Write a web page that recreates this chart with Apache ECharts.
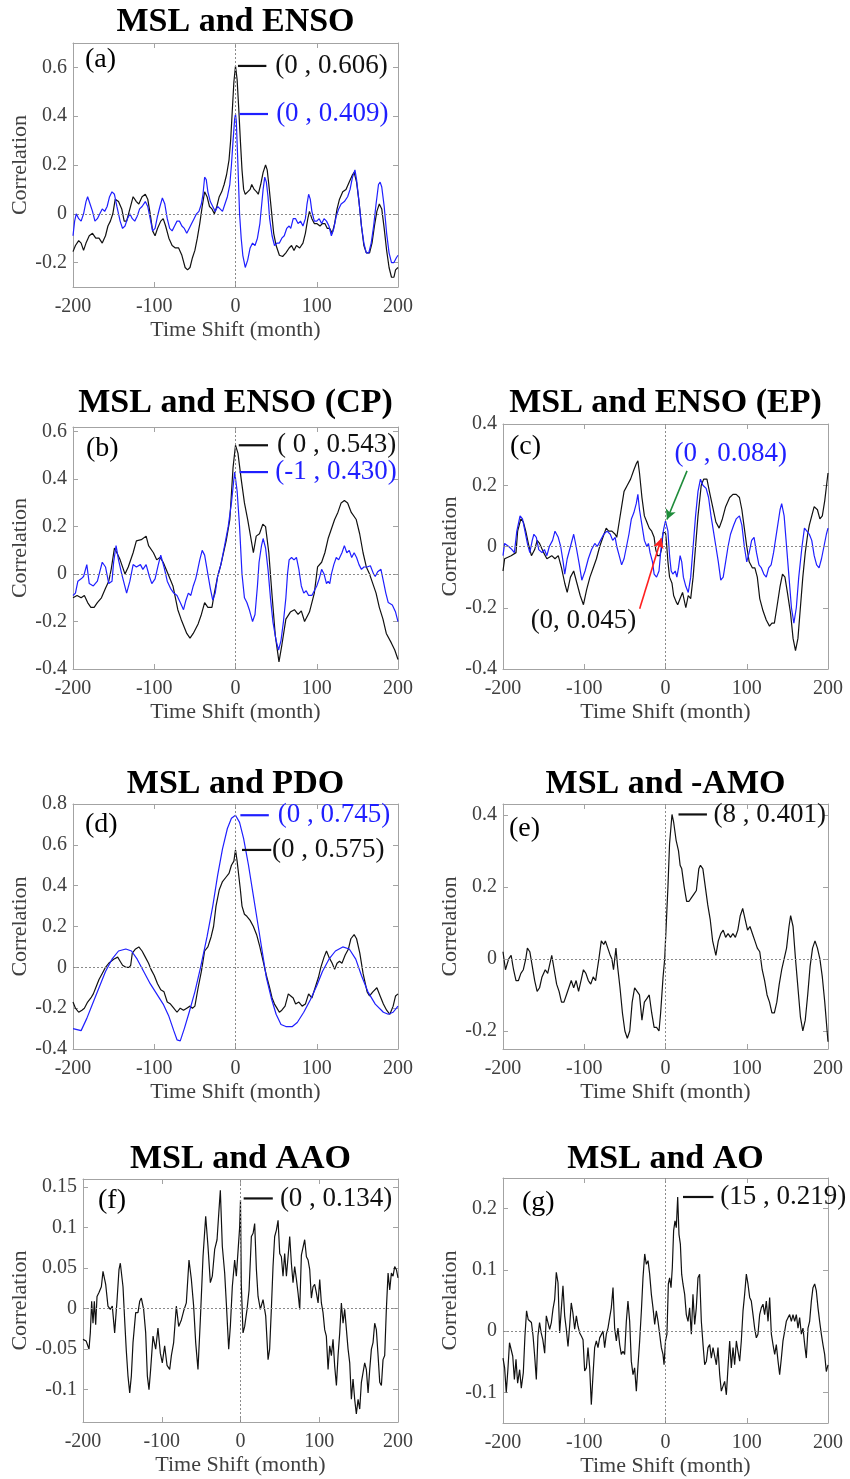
<!DOCTYPE html>
<html><head><meta charset="utf-8">
<script src="https://cdn.jsdelivr.net/npm/echarts@6/dist/echarts.min.js"></script>
<style>html,body{margin:0;padding:0;background:#fff}#c{width:850px;height:1479px}</style>
</head><body><div id="c"></div>
<script>
// ---------- tick labels ----------
const xTicks = [-200, -100, 0, 100, 200];
const yTicksA = [-0.2, 0, 0.2, 0.4, 0.6];
const yTicksB = [-0.4, -0.2, 0, 0.2, 0.4, 0.6];
const yTicksC = [-0.4, -0.2, 0, 0.2, 0.4];
const yTicksD = [-0.4, -0.2, 0, 0.2, 0.4, 0.6, 0.8];
const yTicksE = [-0.2, 0, 0.2, 0.4];
const yTicksF = [-0.1, -0.05, 0, 0.05, 0.1, 0.15];
const yTicksG = [-0.1, 0, 0.1, 0.2];

const titles = ['MSL and ENSO', 'MSL and ENSO (CP)', 'MSL and ENSO (EP)', 'MSL and PDO', 'MSL and -AMO', 'MSL and AAO', 'MSL and AO'];
const letters = ['(a)', '(b)', '(c)', '(d)', '(e)', '(f)', '(g)'];

// ---------- series: [time shift (month), correlation] ----------
const aBlack = [[-200,-0.155],[-197,-0.13],[-193,-0.11],[-190,-0.12],[-187,-0.15],[-184,-0.12],[-180,-0.09],[-176,-0.08],[-172,-0.1],[-168,-0.1],[-164,-0.12],[-160,-0.09],[-157,-0.05],[-154,-0.03],[-151,0.0],[-148,0.06],[-144,0.05],[-140,0.02],[-137,-0.03],[-134,-0.03],[-130,0.02],[-126,0.07],[-122,0.05],[-119,0.04],[-115,0.07],[-111,0.08],[-108,0.06],[-105,0.0],[-102,-0.07],[-99,-0.09],[-96,-0.06],[-92,-0.03],[-89,-0.02],[-86,-0.05],[-82,-0.1],[-78,-0.13],[-74,-0.14],[-70,-0.14],[-66,-0.17],[-62,-0.22],[-59,-0.23],[-56,-0.22],[-53,-0.18],[-50,-0.15],[-47,-0.1],[-44,-0.04],[-41,0.03],[-38,0.09],[-35,0.07],[-32,0.03],[-29,0.02],[-26,0.0],[-23,0.03],[-20,0.07],[-17,0.09],[-14,0.12],[-11,0.16],[-8,0.22],[-6,0.3],[-4,0.42],[-2,0.54],[0,0.606],[2,0.55],[4,0.43],[6,0.3],[8,0.18],[10,0.1],[12,0.08],[15,0.09],[18,0.1],[20,0.12],[23,0.1],[26,0.09],[28,0.08],[31,0.12],[34,0.17],[37,0.2],[39,0.18],[41,0.12],[44,0.02],[47,-0.08],[50,-0.13],[54,-0.17],[58,-0.175],[62,-0.16],[66,-0.14],[69,-0.13],[72,-0.15],[75,-0.13],[79,-0.14],[83,-0.12],[86,-0.08],[89,-0.02],[91,0.01],[94,-0.02],[97,-0.04],[100,-0.04],[104,-0.05],[107,-0.04],[110,-0.04],[113,-0.06],[116,-0.06],[119,-0.08],[122,-0.04],[125,0.02],[128,0.06],[132,0.09],[136,0.1],[140,0.13],[144,0.16],[146,0.17],[149,0.13],[152,0.05],[155,-0.05],[158,-0.13],[161,-0.16],[165,-0.16],[168,-0.12],[171,-0.05],[174,0.01],[177,0.04],[180,0.02],[183,-0.06],[186,-0.15],[189,-0.22],[192,-0.26],[195,-0.26],[197,-0.23],[200,-0.22]];
const aBlue = [[-200,-0.09],[-198,-0.03],[-196,0.0],[-193,-0.02],[-190,-0.03],[-187,0.0],[-184,0.05],[-182,0.07],[-179,0.04],[-176,0.01],[-173,-0.03],[-170,-0.02],[-167,0.0],[-164,0.02],[-161,0.01],[-158,0.03],[-155,0.07],[-152,0.09],[-149,0.08],[-146,0.03],[-142,-0.03],[-139,-0.06],[-136,-0.05],[-133,-0.02],[-130,0.0],[-127,-0.02],[-124,-0.03],[-121,-0.01],[-118,0.02],[-115,0.03],[-111,0.05],[-108,0.03],[-105,-0.02],[-102,-0.07],[-99,-0.06],[-96,-0.01],[-93,0.03],[-90,0.065],[-87,0.04],[-84,-0.02],[-81,-0.06],[-78,-0.07],[-75,-0.05],[-72,-0.03],[-69,-0.03],[-66,-0.05],[-63,-0.06],[-60,-0.08],[-57,-0.06],[-54,-0.04],[-51,-0.02],[-48,0.0],[-45,0.01],[-42,0.04],[-40,0.08],[-38,0.15],[-36,0.14],[-34,0.09],[-31,0.05],[-28,0.03],[-25,0.01],[-22,0.03],[-19,0.02],[-16,0.01],[-13,0.04],[-10,0.07],[-7,0.12],[-5,0.2],[-3,0.3],[-1,0.39],[0,0.409],[1,0.38],[3,0.2],[5,0.0],[7,-0.1],[9,-0.17],[12,-0.22],[15,-0.19],[18,-0.14],[21,-0.12],[24,-0.13],[27,-0.1],[30,-0.04],[32,0.03],[34,0.1],[36,0.15],[38,0.13],[40,0.07],[42,-0.02],[45,-0.09],[48,-0.13],[51,-0.12],[54,-0.12],[57,-0.1],[60,-0.09],[63,-0.06],[66,-0.05],[68,-0.06],[71,-0.02],[74,-0.02],[77,-0.04],[80,-0.03],[83,-0.05],[86,-0.02],[88,0.04],[90,0.08],[92,0.06],[94,0.01],[97,-0.03],[100,-0.03],[103,-0.02],[106,-0.04],[109,-0.02],[112,-0.03],[115,-0.05],[118,-0.09],[121,-0.06],[124,-0.01],[127,0.02],[130,0.04],[134,0.05],[138,0.07],[141,0.1],[144,0.15],[147,0.18],[149,0.14],[152,0.05],[155,-0.05],[158,-0.12],[161,-0.16],[164,-0.16],[167,-0.12],[170,-0.05],[173,0.04],[176,0.12],[178,0.13],[180,0.11],[183,0.03],[186,-0.08],[189,-0.16],[192,-0.2],[195,-0.2],[198,-0.18],[200,-0.17]];

const bBlack = [[-200,-0.1],[-195,-0.09],[-190,-0.1],[-186,-0.09],[-182,-0.12],[-178,-0.14],[-174,-0.14],[-170,-0.12],[-165,-0.1],[-160,-0.06],[-156,-0.03],[-153,0.02],[-149,0.11],[-146,0.09],[-142,0.06],[-136,0.0],[-132,0.03],[-126,0.09],[-122,0.14],[-116,0.145],[-110,0.16],[-107,0.12],[-101,0.09],[-97,0.06],[-93,0.07],[-89,0.05],[-83,0.0],[-77,-0.05],[-71,-0.15],[-67,-0.19],[-60,-0.25],[-56,-0.27],[-52,-0.25],[-46,-0.21],[-42,-0.17],[-38,-0.12],[-34,-0.14],[-29,-0.14],[-26,-0.08],[-22,-0.01],[-18,0.04],[-11.5,0.14],[-7,0.23],[-3,0.45],[0,0.543],[3,0.51],[7,0.4],[11,0.3],[15,0.23],[19.5,0.14],[22,0.09],[25.5,0.16],[29.5,0.17],[33.6,0.21],[37,0.2],[41,0.09],[45,-0.09],[49,-0.26],[53.5,-0.37],[57,-0.3],[62,-0.19],[67.5,-0.16],[72.5,-0.15],[77,-0.17],[81,-0.155],[85,-0.2],[91,-0.16],[97,-0.08],[101,0.03],[106,0.05],[110,0.09],[114,0.15],[118,0.19],[122,0.23],[126,0.26],[130,0.3],[134,0.31],[138,0.3],[142.5,0.26],[148.6,0.23],[152.8,0.17],[157,0.09],[161,0.03],[165,0.0],[169,-0.04],[173,-0.08],[177,-0.14],[181.5,-0.19],[185.6,-0.25],[191.8,-0.29],[196,-0.32],[200,-0.36]];
const bBlue = [[-200,-0.09],[-197,-0.08],[-194,-0.03],[-190,-0.02],[-187,-0.01],[-183,0.04],[-180,-0.04],[-175,-0.05],[-170,-0.03],[-167,0.01],[-164,0.05],[-160,0.03],[-156,-0.04],[-152,-0.03],[-150,0.05],[-147,0.12],[-144,0.06],[-140,0.0],[-137,-0.04],[-134,-0.08],[-130,-0.03],[-126,0.04],[-122,0.03],[-117,0.04],[-114,0.02],[-110,0.04],[-106,-0.01],[-103,-0.04],[-99,-0.02],[-95,0.04],[-92,0.08],[-88,0.03],[-84,-0.03],[-80,-0.06],[-76,-0.08],[-72,-0.09],[-68,-0.12],[-64,-0.15],[-61,-0.11],[-58,-0.08],[-55,-0.09],[-52,-0.05],[-49,-0.02],[-47,0.01],[-44,0.06],[-41,0.1],[-38,0.08],[-34,0.0],[-31,-0.06],[-28,-0.11],[-25,-0.08],[-22,-0.01],[-18,0.04],[-14,0.11],[-9,0.2],[-5,0.3],[-2,0.4],[-1,0.43],[0,0.425],[2,0.35],[5,0.2],[8,0.0],[11,-0.1],[14,-0.12],[17,-0.15],[21,-0.2],[24,-0.17],[27,-0.05],[29,0.05],[32,0.12],[34,0.15],[37,0.11],[40,0.02],[43,-0.1],[46,-0.2],[50,-0.28],[53,-0.32],[56,-0.28],[59,-0.2],[62,-0.1],[64,0.0],[66,0.06],[69,0.07],[72,0.06],[75,0.07],[78,0.02],[81,-0.05],[84,-0.08],[87,-0.07],[90,-0.09],[94,-0.09],[97,-0.07],[100,-0.05],[103,-0.02],[106,0.02],[109,0.0],[112,-0.04],[114,-0.03],[116,-0.04],[118,0.0],[121,0.04],[124,0.07],[127,0.06],[131,0.09],[134,0.12],[137,0.09],[140,0.1],[143,0.07],[146,0.09],[149,0.07],[152,0.04],[155,0.02],[158,0.03],[162,0.03],[166,0.035],[170,0.0],[172,-0.01],[175,0.01],[179,0.02],[182,-0.03],[185,-0.08],[188,-0.12],[193,-0.13],[197,-0.16],[200,-0.2]];

const cBlack = [[-200,-0.08],[-198,-0.04],[-190,-0.03],[-184,-0.02],[-182,0.05],[-178,0.09],[-175,0.08],[-172,0.05],[-168,0.0],[-165,-0.03],[-161,-0.01],[-158,0.02],[-155,0.01],[-150,-0.02],[-146,-0.04],[-140,-0.03],[-136,-0.04],[-132,-0.03],[-128,-0.07],[-124,-0.12],[-121,-0.15],[-117,-0.1],[-113,-0.08],[-109,-0.12],[-105,-0.16],[-101,-0.19],[-97,-0.14],[-93,-0.1],[-89,-0.07],[-85,-0.04],[-81,0.0],[-77,0.03],[-73,0.06],[-70,0.05],[-66,0.05],[-62,0.04],[-60,0.03],[-57,0.08],[-54,0.13],[-51,0.18],[-47,0.2],[-43,0.22],[-39,0.25],[-36,0.27],[-34,0.28],[-32,0.24],[-29,0.16],[-26,0.1],[-23,0.08],[-20,0.06],[-17,0.05],[-14,0.03],[-12,-0.01],[-10,-0.03],[-7,-0.03],[-5,-0.01],[-3,0.045],[0,0.045],[1,0.02],[3,-0.05],[5,-0.1],[8,-0.12],[10,-0.16],[13,-0.18],[15,-0.19],[18,-0.17],[21,-0.15],[25,-0.2],[28,-0.16],[31,-0.17],[34,-0.1],[37,0.0],[40,0.1],[44,0.2],[47,0.22],[51,0.22],[54,0.18],[58,0.13],[62,0.08],[66,0.06],[70,0.09],[74,0.13],[79,0.16],[83,0.17],[87,0.17],[91,0.16],[94,0.12],[97,0.06],[100,0.0],[103,-0.05],[107,-0.07],[110,-0.07],[113,-0.1],[116,-0.17],[120,-0.21],[124,-0.24],[128,-0.26],[131,-0.25],[134,-0.25],[137,-0.2],[141,-0.13],[144,-0.09],[147,-0.1],[150,-0.15],[154,-0.22],[157,-0.3],[160,-0.34],[163,-0.3],[166,-0.2],[169,-0.1],[172,-0.02],[175,0.04],[177,0.07],[180,0.1],[183,0.13],[187,0.12],[190,0.09],[193,0.1],[196,0.15],[200,0.24]];
const cBlue = [[-200,-0.03],[-198,0.01],[-193,0.0],[-189,-0.01],[-186,-0.02],[-183,0.05],[-179,0.1],[-176,0.09],[-173,0.05],[-170,0.01],[-167,-0.02],[-164,0.02],[-162,0.04],[-159,0.03],[-156,-0.01],[-152,-0.02],[-149,-0.01],[-146,-0.03],[-143,0.0],[-139,0.02],[-136,0.05],[-132,0.03],[-129,0.0],[-126,-0.05],[-124,-0.09],[-121,-0.04],[-117,0.0],[-113,0.04],[-110,0.0],[-106,-0.06],[-103,-0.11],[-99,-0.08],[-95,-0.04],[-91,-0.01],[-87,0.01],[-84,0.0],[-80,0.02],[-76,0.04],[-72,0.05],[-68,0.04],[-65,0.02],[-62,0.03],[-60,0.0],[-57,-0.03],[-54,-0.06],[-51,-0.04],[-48,0.0],[-45,0.04],[-42,0.09],[-39,0.11],[-36,0.14],[-34,0.17],[-32,0.12],[-29,0.07],[-26,0.02],[-23,0.0],[-21,0.01],[-19,-0.02],[-16,-0.05],[-14,-0.09],[-11,-0.1],[-8,-0.08],[-6,-0.02],[-4,0.03],[-2,0.06],[0,0.084],[1,0.08],[3,0.05],[5,-0.03],[7,-0.08],[9,-0.09],[12,-0.08],[14,-0.1],[16,-0.07],[18,-0.03],[20,-0.05],[22,-0.1],[25,-0.13],[28,-0.15],[31,-0.1],[34,0.0],[37,0.1],[40,0.18],[43,0.22],[46,0.2],[50,0.19],[53,0.16],[56,0.1],[59,0.05],[62,0.0],[65,-0.05],[68,-0.11],[71,-0.1],[74,-0.05],[77,0.0],[80,0.04],[84,0.07],[87,0.09],[91,0.1],[94,0.07],[97,0.0],[100,-0.05],[103,-0.02],[106,0.02],[109,0.03],[112,-0.02],[115,-0.06],[118,-0.07],[121,-0.09],[124,-0.1],[127,-0.07],[130,-0.06],[133,-0.02],[137,0.05],[141,0.12],[143,0.14],[146,0.1],[149,0.0],[152,-0.1],[155,-0.2],[158,-0.25],[161,-0.2],[164,-0.1],[168,0.0],[171,0.06],[174,0.05],[177,0.04],[180,0.02],[183,-0.03],[186,-0.06],[189,-0.07],[192,-0.04],[195,0.0],[198,0.04],[200,0.06]];

const dBlack = [[-200,-0.17],[-197,-0.2],[-193,-0.22],[-189,-0.21],[-186,-0.2],[-182,-0.17],[-178,-0.15],[-175,-0.13],[-172,-0.1],[-168,-0.06],[-164,-0.03],[-160,0.0],[-156,0.02],[-150,0.04],[-145,0.05],[-142,0.03],[-139,0.01],[-135,0.0],[-131,0.0],[-129,0.01],[-127,0.07],[-123,0.09],[-119,0.1],[-115,0.08],[-111,0.05],[-107,0.02],[-104,-0.01],[-100,-0.04],[-96,-0.08],[-92,-0.11],[-88,-0.12],[-84,-0.17],[-80,-0.18],[-76,-0.2],[-72,-0.22],[-68,-0.2],[-64,-0.21],[-60,-0.2],[-56,-0.19],[-53,-0.2],[-50,-0.19],[-46,-0.1],[-42,-0.02],[-38,0.08],[-34,0.1],[-30,0.15],[-27,0.2],[-24,0.3],[-20,0.38],[-16,0.42],[-12,0.44],[-8,0.46],[-5,0.5],[-2,0.52],[0,0.575],[2,0.52],[4,0.45],[6,0.38],[8,0.3],[11,0.26],[14,0.25],[18,0.23],[22,0.2],[26,0.16],[30,0.1],[34,0.03],[38,-0.04],[42,-0.1],[45,-0.15],[48,-0.18],[51,-0.2],[54,-0.22],[57,-0.21],[61,-0.19],[65,-0.13],[68,-0.14],[71,-0.15],[74,-0.18],[78,-0.17],[82,-0.19],[86,-0.18],[90,-0.13],[94,-0.15],[98,-0.1],[102,-0.05],[105,0.0],[109,0.05],[112,0.08],[115,0.05],[119,0.02],[122,-0.01],[125,0.02],[128,0.03],[131,0.02],[135,0.06],[139,0.09],[142,0.14],[146,0.16],[149,0.14],[153,0.07],[157,-0.03],[162,-0.12],[165,-0.14],[169,-0.12],[174,-0.1],[178,-0.14],[182,-0.18],[186,-0.21],[190,-0.23],[194,-0.19],[197,-0.14],[200,-0.13]];
const dBlue = [[-200,-0.3],[-190,-0.31],[-183,-0.25],[-176,-0.18],[-168,-0.1],[-160,-0.02],[-152,0.04],[-144,0.08],[-135,0.09],[-128,0.08],[-121,0.04],[-113,-0.02],[-105,-0.08],[-97,-0.13],[-89,-0.18],[-82,-0.24],[-76,-0.31],[-72,-0.355],[-68,-0.36],[-63,-0.3],[-57,-0.22],[-50,-0.12],[-43,0.0],[-35,0.15],[-28,0.3],[-22,0.45],[-16,0.58],[-10,0.68],[-5,0.73],[0,0.745],[5,0.71],[10,0.63],[16,0.5],[22,0.35],[28,0.2],[34,0.05],[38,-0.05],[44,-0.15],[50,-0.23],[56,-0.28],[62,-0.29],[70,-0.29],[76,-0.27],[84,-0.22],[92,-0.16],[100,-0.09],[107,-0.02],[115,0.04],[123,0.08],[132,0.1],[140,0.09],[148,0.04],[155,-0.04],[163,-0.12],[172,-0.18],[182,-0.22],[188,-0.23],[194,-0.22],[200,-0.19]];

const eBlack = [[-200,0.02],[-197,-0.03],[-195,-0.03],[-193,0.0],[-190,0.01],[-187,-0.03],[-184,-0.06],[-181,-0.06],[-178,-0.04],[-175,-0.03],[-172,0.0],[-170,0.03],[-167,0.02],[-164,-0.02],[-161,-0.06],[-158,-0.09],[-155,-0.08],[-152,-0.05],[-148,-0.03],[-145,-0.04],[-142,-0.01],[-140,0.01],[-137,-0.03],[-134,-0.07],[-131,-0.09],[-128,-0.12],[-125,-0.12],[-122,-0.1],[-119,-0.08],[-116,-0.06],[-113,-0.08],[-110,-0.06],[-107,-0.09],[-104,-0.06],[-101,-0.03],[-98,-0.04],[-95,-0.06],[-92,-0.07],[-89,-0.05],[-86,-0.06],[-84,-0.03],[-82,0.0],[-79,0.05],[-76,0.04],[-74,0.05],[-71,0.03],[-68,0.01],[-66,0.0],[-64,-0.03],[-61,0.03],[-59,-0.02],[-56,-0.08],[-53,-0.15],[-50,-0.2],[-47,-0.22],[-44,-0.2],[-41,-0.12],[-38,-0.08],[-35,-0.09],[-32,-0.1],[-29,-0.17],[-26,-0.12],[-23,-0.11],[-20,-0.1],[-17,-0.15],[-14,-0.19],[-11,-0.19],[-8,-0.2],[-6,-0.15],[-3,-0.05],[-1,0.0],[1,0.1],[3,0.2],[5,0.32],[8,0.401],[10,0.38],[13,0.33],[16,0.3],[18,0.26],[20,0.25],[23,0.2],[26,0.16],[29,0.16],[32,0.17],[35,0.18],[38,0.19],[41,0.25],[43,0.26],[46,0.25],[49,0.2],[52,0.15],[55,0.11],[58,0.05],[60,0.03],[62,0.01],[65,0.05],[68,0.07],[71,0.08],[74,0.06],[77,0.07],[80,0.06],[83,0.07],[86,0.06],[89,0.08],[92,0.12],[95,0.14],[98,0.11],[101,0.08],[104,0.09],[107,0.07],[110,0.05],[113,0.03],[116,0.02],[119,-0.03],[122,-0.06],[125,-0.1],[128,-0.12],[131,-0.15],[134,-0.15],[137,-0.12],[140,-0.07],[143,-0.03],[146,0.0],[149,0.03],[152,0.09],[154,0.12],[157,0.09],[160,0.0],[163,-0.08],[166,-0.16],[169,-0.2],[172,-0.17],[175,-0.1],[178,-0.02],[181,0.03],[184,0.05],[187,0.03],[190,0.0],[193,-0.05],[196,-0.12],[200,-0.23]];

const fBlack = [[-200,-0.038],[-196,-0.04],[-192.4,-0.05],[-190.7,-0.03],[-189,0.009],[-187.3,-0.018],[-185.6,0.009],[-183.9,-0.02],[-182.2,0.015],[-179.7,0.02],[-176.7,0.027],[-174.6,0.046],[-171.2,0.03],[-168.3,0.003],[-165.3,-0.001],[-162.8,0.003],[-159.8,-0.03],[-156.8,0.01],[-154.3,0.048],[-152.6,0.056],[-149.2,0.027],[-147.1,-0.014],[-145,-0.052],[-142.9,-0.083],[-140.7,-0.104],[-138.6,-0.083],[-136.5,-0.042],[-133.1,-0.005],[-130.2,-0.005],[-128,0.009],[-125.9,0.013],[-123,-0.001],[-120.4,-0.03],[-118.3,-0.083],[-116.2,-0.1],[-114.1,-0.075],[-111.1,-0.034],[-107.7,-0.05],[-104.8,-0.024],[-101.8,-0.055],[-99.3,-0.067],[-96.3,-0.046],[-93.3,-0.07],[-89.9,-0.075],[-87.8,-0.058],[-84.9,-0.042],[-81.5,0.003],[-78.5,-0.022],[-75.1,-0.014],[-72.2,-0.003],[-68.8,0.007],[-65.4,0.06],[-62.4,0.036],[-59.5,0.003],[-56.9,-0.042],[-54,-0.075],[-51,-0.014],[-47.6,0.064],[-44.2,0.114],[-41.3,0.077],[-38.3,0.032],[-35.8,0.04],[-32.8,0.073],[-29.8,0.085],[-27.3,0.122],[-25.6,0.146],[-23.1,0.077],[-20.1,0.044],[-18,0.007],[-15,-0.05],[-12.9,-0.022],[-10.4,0.027],[-7.4,0.06],[-5.3,0.04],[-3.2,0.07],[-1.1,0.1],[0,0.134],[1,0.03],[3.2,-0.03],[5.3,-0.022],[8.3,-0.001],[10.9,0.023],[13.8,0.089],[16,0.093],[18,0.105],[20.2,0.048],[22.3,0.015],[25.2,-0.001],[28.6,0.011],[32,-0.009],[35,-0.063],[37,-0.05],[39.2,0.0],[41.3,0.052],[43.4,0.089],[45.6,0.097],[47.7,0.109],[49.8,0.068],[51.9,0.064],[54,0.04],[56.1,0.068],[58.3,0.04],[60.4,0.064],[62.5,0.089],[64.6,0.056],[66.7,0.032],[68.8,0.052],[71,0.036],[73.1,0.019],[75.2,-0.001],[77.3,0.066],[79.4,0.066],[81.5,0.085],[83.7,0.064],[85.8,0.06],[87.9,0.048],[90,0.013],[92.1,0.027],[94.2,0.03],[96.4,0.019],[98.5,0.007],[100.6,0.036],[102.7,0.007],[104.8,-0.005],[106.9,-0.026],[109,-0.034],[111.2,-0.075],[113.3,-0.046],[115.4,-0.058],[117.5,-0.038],[119.6,-0.071],[121.8,-0.095],[123.9,-0.058],[126,-0.03],[128.1,0.007],[130.2,-0.018],[132.3,-0.001],[134.5,-0.026],[136.6,-0.05],[138.7,-0.067],[140.8,-0.112],[142.9,-0.087],[145,-0.112],[147.1,-0.13],[149.3,-0.112],[151.4,-0.124],[153.5,-0.091],[155.6,-0.091],[157.7,-0.067],[159.8,-0.075],[162,-0.104],[164.1,-0.075],[166.2,-0.05],[168.3,-0.042],[170.4,-0.018],[172.5,-0.026],[174.7,-0.058],[176.8,-0.091],[178.9,-0.095],[181,-0.063],[183.1,-0.058],[185.2,-0.001],[187.4,0.044],[189.5,0.023],[191.6,0.044],[193.7,0.04],[195.8,0.052],[198,0.048],[200,0.038]];

const gBlack = [[-200,-0.044],[-198,-0.06],[-196,-0.1],[-194,-0.063],[-192,-0.019],[-190,-0.022],[-188,-0.041],[-186,-0.079],[-184,-0.046],[-182,-0.085],[-179.5,-0.063],[-177.5,-0.093],[-175,-0.068],[-173,-0.008],[-171,0.033],[-169,0.019],[-167,0.022],[-165,0.014],[-163,-0.008],[-161,-0.041],[-159,-0.079],[-157,-0.008],[-155,0.014],[-153,-0.003],[-151,-0.014],[-148.7,-0.036],[-146.7,0.025],[-144.6,0.022],[-142.6,0.003],[-140.5,0.014],[-138.5,0.036],[-136.4,0.052],[-134.4,0.096],[-132.3,0.079],[-130.3,-0.003],[-128.2,0.036],[-126.2,0.074],[-124.1,0.025],[-122.1,0.003],[-120,-0.025],[-118,0.008],[-116,0.046],[-114,0.03],[-111.8,0.003],[-109.7,0.025],[-107.7,0.008],[-105.6,-0.003],[-103.6,-0.008],[-101.5,-0.014],[-99.5,-0.065],[-97.4,-0.06],[-95.4,-0.027],[-93.3,-0.06],[-91.3,-0.12],[-89.2,-0.071],[-87.2,-0.027],[-85.1,-0.016],[-83.1,-0.027],[-81,-0.011],[-79,-0.008],[-76.9,0],[-74.9,-0.027],[-72.8,-0.005],[-70.8,0.005],[-68.7,0.022],[-66.7,0.038],[-64.6,0.071],[-62.6,0.005],[-60.5,-0.016],[-58.5,0.005],[-56.4,-0.022],[-54.4,-0.038],[-52.3,-0.033],[-50.3,-0.038],[-48.2,0.016],[-46.2,0.049],[-44.1,0.016],[-42.1,-0.049],[-40,-0.071],[-38,-0.06],[-35.9,-0.098],[-33.8,-0.055],[-31.8,-0.016],[-29.7,0.033],[-27.7,0.087],[-25.6,0.126],[-23.6,0.109],[-21.5,0.115],[-19.5,0.093],[-17.4,0.06],[-15.4,0.038],[-13.3,0.011],[-11.3,0.033],[-9.2,0.016],[-7.2,-0.005],[-5.1,-0.027],[-3.1,-0.038],[-1.8,-0.055],[0,-0.016],[1.8,-0.005],[3.5,0.077],[5.1,0.087],[6.8,0.071],[8.4,0.104],[10,0.164],[11.7,0.18],[13.3,0.169],[15,0.219],[16.6,0.158],[18.3,0.142],[19.9,0.093],[21.5,0.077],[23.6,0.06],[25.6,0.027],[27.7,0.016],[29.7,0.038],[31.8,-0.005],[33.8,0.06],[35.9,0.011],[37.9,0.038],[40,0.087],[42,0.093],[44.1,0.016],[46.2,-0.022],[48.2,-0.055],[50.3,-0.049],[52.3,-0.027],[54.4,-0.022],[56.4,-0.044],[58.5,-0.027],[60.5,-0.03],[62.6,-0.055],[64.6,-0.027],[66.7,-0.071],[68.7,-0.098],[70.8,-0.101],[72.8,-0.082],[74.9,-0.104],[76.9,-0.06],[79,-0.016],[81,-0.06],[83.1,-0.027],[85.1,-0.055],[87.2,-0.016],[89.2,-0.033],[91.3,-0.049],[93.3,-0.016],[95.4,0.033],[97.4,0.06],[99.5,0.093],[101.5,0.077],[103.6,0.055],[105.6,0.049],[107.7,0.027],[109.7,0.005],[111.8,-0.011],[113.8,-0.005],[115.9,0.027],[117.9,0.038],[120,0.044],[122,0.027],[124.1,0.049],[126.2,0.016],[128.2,0.055],[130.3,-0.005],[132.3,-0.022],[134.4,-0.038],[136.4,-0.022],[138.5,-0.049],[140.5,-0.071],[142.6,-0.044],[144.6,-0.016],[146.7,0],[148.7,0.016],[150.8,0.022],[152.8,0.027],[154.9,0.016],[156.9,0.027],[159,0.016],[161,0.027],[163.1,0.005],[165.1,0.022],[167.2,-0.005],[169.2,0.005],[171.3,-0.022],[173.3,-0.044],[175.4,0.005],[177.4,0.016],[179.5,0.049],[181.5,0.071],[183.6,0.077],[185.6,0.066],[187.7,0.038],[189.7,0.016],[191.8,-0.005],[193.8,-0.022],[195.9,-0.038],[197.9,-0.066],[200,-0.055]];

// ---------- annotations (data units) ----------
const notesA = [{text:'(0 , 0.606)', c:'k', y:0.606, x0:3, x1:38, tx:49}, {text:'(0 , 0.409)', c:'b', y:0.409, x0:5, x1:40, tx:50}];
const notesB = [{text:'( 0 , 0.543)', c:'k', y:0.543, x0:4, x1:40, tx:51}, {text:'(-1 , 0.430)', c:'b', y:0.43, x0:5, x1:40, tx:49}];
const notesC = [{text:'(0 , 0.084)', c:'b', y:0.302, tx:11}, {text:'(0, 0.045)', c:'k', y:-0.242, tx:-166}];
const arrowsC = [{from:[26.5,0.247], to:[1.8,0.088], c:'g'}, {from:[-31.8,-0.203], to:[-5.1,0.027], c:'r'}];
const notesD = [{text:'(0 , 0.745)', c:'b', y:0.745, x0:6, x1:41, tx:52}, {text:'(0 , 0.575)', c:'k', y:0.575, x0:8, x1:44, tx:45}];
const notesE = [{text:'(8 , 0.401)', c:'k', y:0.401, x0:16, x1:51, tx:59}];
const notesF = [{text:'(0 , 0.134)', c:'k', y:0.136, x0:4, x1:41, tx:50}];
const notesG = [{text:'(15 , 0.219)', c:'k', y:0.219, x0:21.5, x1:59, tx:67.5}];

// ---------- styling / layout ----------
const COL = {k:'#111111', b:'#1f1fff', g:'#1e8c3a', r:'#ff1f1f'};
const FONT = '"Liberation Serif", "Times New Roman", serif';
const AX = '#a3a3a3';
const TXT = '#404040';

const panels = [
  {grid:{left:73, top:43, width:325, height:244}, ymin:-0.3, ymax:0.7, yt:yTicksA, gap:41, lines:[[aBlack,'k'],[aBlue,'b']], notes:notesA, arrows:[], tY:22, lX:85, lY:60},
  {grid:{left:73, top:427, width:325, height:242}, ymin:-0.4, ymax:0.62, yt:yTicksB, gap:41, lines:[[bBlack,'k'],[bBlue,'b']], notes:notesB, arrows:[], tY:403, lX:86, lY:449},
  {grid:{left:503, top:424, width:325, height:245}, ymin:-0.4, ymax:0.4, yt:yTicksC, gap:41, lines:[[cBlack,'k'],[cBlue,'b']], notes:notesC, arrows:arrowsC, tY:403, lX:510, lY:447},
  {grid:{left:73, top:804, width:325, height:245}, ymin:-0.4, ymax:0.8, yt:yTicksD, gap:41, lines:[[dBlack,'k'],[dBlue,'b']], notes:notesD, arrows:[], tY:784, lX:85, lY:825},
  {grid:{left:503, top:804, width:325, height:245}, ymin:-0.25, ymax:0.43, yt:yTicksE, gap:41, lines:[[eBlack,'k']], notes:notesE, arrows:[], tY:784, lX:509, lY:829},
  {grid:{left:83, top:1179, width:315, height:243}, ymin:-0.14, ymax:0.16, yt:yTicksF, gap:51, lines:[[fBlack,'k']], notes:notesF, arrows:[], tY:1159, lX:98, lY:1201},
  {grid:{left:503, top:1178, width:325, height:245}, ymin:-0.15, ymax:0.25, yt:yTicksG, gap:41, lines:[[gBlack,'k']], notes:notesG, arrows:[], tY:1159, lX:522, lY:1203}
];

const grids = [], xAxes = [], yAxes = [], series = [], graphics = [];
const fmt = v => String(+(+v).toFixed(3));

panels.forEach((p, i) => {
  grids.push(Object.assign({containLabel:false, show:false}, p.grid));
  const tickStyle = {show:true, inside:true, length:5, lineStyle:{color:AX, width:1}};
  xAxes.push({gridIndex:i, type:'value', position:'bottom', min:-200, max:200, interval:100,
    axisLine:{show:true, onZero:false, lineStyle:{color:AX, width:1}},
    axisTick:Object.assign({customValues:xTicks}, tickStyle),
    axisLabel:{customValues:xTicks, color:TXT, fontSize:20, fontFamily:FONT, margin:10, formatter:fmt},
    splitLine:{show:false},
    name:'Time Shift (month)', nameLocation:'middle', nameGap:32,
    nameTextStyle:{color:TXT, fontSize:22, fontFamily:FONT}});
  xAxes.push({gridIndex:i, type:'value', position:'top', min:-200, max:200, interval:100,
    axisLine:{show:true, onZero:false, lineStyle:{color:AX, width:1}},
    axisTick:Object.assign({customValues:xTicks}, tickStyle),
    axisLabel:{show:false}, splitLine:{show:false}});
  yAxes.push({gridIndex:i, type:'value', position:'left', min:p.ymin, max:p.ymax,
    axisLine:{show:true, onZero:false, lineStyle:{color:AX, width:1}},
    axisTick:Object.assign({customValues:p.yt}, tickStyle),
    axisLabel:{customValues:p.yt, color:TXT, fontSize:20, fontFamily:FONT, margin:6, formatter:fmt},
    splitLine:{show:false},
    name:'Correlation', nameLocation:'middle', nameGap:p.gap,
    nameTextStyle:{color:TXT, fontSize:22, fontFamily:FONT}});
  yAxes.push({gridIndex:i, type:'value', position:'right', min:p.ymin, max:p.ymax,
    axisLine:{show:true, onZero:false, lineStyle:{color:AX, width:1}},
    axisTick:Object.assign({customValues:p.yt}, tickStyle),
    axisLabel:{show:false}, splitLine:{show:false}});

  const xi = 2*i, yi = 2*i;
  series.push({type:'line', xAxisIndex:xi, yAxisIndex:yi, data:[[-200,0]], symbol:'none', silent:true, z:1,
    lineStyle:{opacity:0},
    markLine:{silent:true, symbol:'none', animation:false, label:{show:false},
      lineStyle:{color:'#8a8a8a', type:[2,2], width:1},
      data:[{yAxis:0},{xAxis:0}]}});
  p.lines.forEach(([d, c]) => {
    series.push({type:'line', xAxisIndex:xi, yAxisIndex:yi, data:d, symbol:'none', z:3,
      lineStyle:{color:COL[c], width:1.2}, itemStyle:{color:COL[c]}});
  });
  p.notes.forEach(n => {
    if (n.x0 !== undefined) {
      series.push({type:'line', xAxisIndex:xi, yAxisIndex:yi, data:[[n.x0,n.y],[n.x1,n.y]], symbol:'none', z:4,
        lineStyle:{color:COL[n.c], width:2.2}});
    }
  });
  const ml = p.arrows.length ? {silent:true, symbol:['none','arrow'], symbolSize:[8,10], animation:false, label:{show:false},
      data:p.arrows.map(a => [{coord:a.from, lineStyle:{color:COL[a.c], width:1.6, type:'solid'}, itemStyle:{color:COL[a.c]}}, {coord:a.to}])} : undefined;
  series.push({type:'scatter', xAxisIndex:xi, yAxisIndex:yi, symbolSize:0, z:5, silent:true,
    itemStyle:{opacity:1},
    data:p.notes.map(n => ({value:[n.tx, n.y], label:{show:true, position:'right', distance:0, formatter:n.text,
      color:COL[n.c], opacity:1, fontSize:27, fontFamily:FONT}})),
    markLine:ml});

  const cx = p.grid.left + p.grid.width/2;
  graphics.push({type:'text', x:cx, y:p.tY, silent:true,
    style:{text:titles[i], font:'bold 34px ' + FONT, fill:'#000', align:'center', verticalAlign:'middle', textAlign:'center', textVerticalAlign:'middle'}});
  graphics.push({type:'text', x:p.lX, y:p.lY, silent:true,
    style:{text:letters[i], font:'28px ' + FONT, fill:'#000', align:'left', verticalAlign:'middle', textAlign:'left', textVerticalAlign:'middle'}});
});

const chart = echarts.init(document.getElementById('c'), null, {renderer:'canvas'});
chart.setOption({
  animation:false,
  backgroundColor:'#ffffff',
  grid:grids, xAxis:xAxes, yAxis:yAxes, series:series, graphic:graphics
});
</script></body></html>
